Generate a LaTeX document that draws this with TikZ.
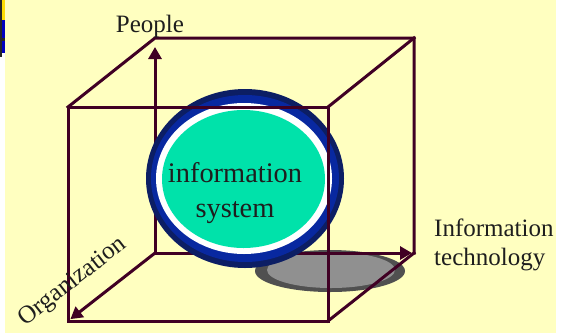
\documentclass[tikz,border=0pt]{standalone}
\usepackage{fontspec}
\setmainfont{Liberation Serif}
\usepackage{xcolor}
\usepackage{tikz}
\usetikzlibrary{arrows.meta, calc}
\definecolor{bgyellow}{RGB}{255,255,192}
\definecolor{cubemaroon}{RGB}{64,0,36}
\definecolor{ringnavy}{RGB}{12,30,100}
\definecolor{ringblue}{RGB}{8,40,160}
\definecolor{coreteal}{RGB}{0,226,170}
\definecolor{shadowdark}{RGB}{80,80,80}
\definecolor{shadowlight}{RGB}{144,144,144}
\definecolor{labelgray}{RGB}{30,30,30}
\tikzset{
  cubeedge/.style={
    draw=cubemaroon, line width=3pt, line cap=rect, line join=miter
  },
  axisarrow/.style={
    draw=cubemaroon, line width=3pt, -{Triangle[length=12pt,width=13pt]}
  },
  axislabel/.style={
    text=labelgray, font=\fontsize{25}{29}\selectfont, inner sep=0pt
  },
  coretext/.style={
    text=labelgray, font=\fontsize{28.4}{35}\selectfont, align=center, inner sep=0pt
  }
}

\begin{document}
\begin{tikzpicture}[x=1pt, y=-1pt]
  \useasboundingbox (0,0) rectangle (567,333);
  \fill[bgyellow] (5,0) rectangle (556,333);
  % strip at the top left
  \fill[black!85] (0,0) rectangle (2,57);
  \fill[yellow!80!orange] (2,0) rectangle (5,20);
  \fill[blue!75!black] (2,20) rectangle (5,53);
  \fill[black!85] (2,38) rectangle (5,41);

  % cube corners
  \coordinate (b1) at (155,38);
  \coordinate (b2) at (414,38);
  \coordinate (b3) at (414,253);
  \coordinate (b4) at (155,253);
  \coordinate (f1) at (68,107);
  \coordinate (f2) at (328,107);
  \coordinate (f3) at (328,321);
  \coordinate (f4) at (68,321);

  % shadow
  \fill[shadowdark] (330,271) ellipse [x radius=75, y radius=21];
  \fill[shadowlight] (331,270) ellipse [x radius=64, y radius=18];

  % back of the cube
  \draw[cubeedge] (f1) -- (b1) -- (b2) -- (b3);
  \draw[cubeedge] (f2) -- (b2);
  \draw[cubeedge] (f3) -- (b3);
  \draw[axisarrow, shorten >=9pt] (b4) -- (b1);
  \draw[axisarrow, shorten >=2pt] (b4) -- (b3);
  \draw[axisarrow, shorten >=3pt] (b4) -- (f4);

  % the globe
  \fill[ringnavy] (245,178.5) ellipse [x radius=99, y radius=89.5];
  \fill[ringblue] (245,178.5) ellipse [x radius=94, y radius=83.5];
  \fill[white] (244,178.5) ellipse [x radius=88, y radius=75.5];
  \fill[coreteal] (243.5,179) ellipse [x radius=81.5, y radius=69];
  \node[coretext] (infosys) at (235,193) {information\\system};

  % front of the cube
  \draw[cubeedge] (f1) rectangle (f3);

  \node[axislabel, anchor=base] (people) at (150,32) {People};
  \node[axislabel, anchor=west, align=left] (infotech) at (434,245) {Information\\technology};
  \node[axislabel, rotate=38] (org) at (73,282) {Organization};
\end{tikzpicture}
\end{document}
